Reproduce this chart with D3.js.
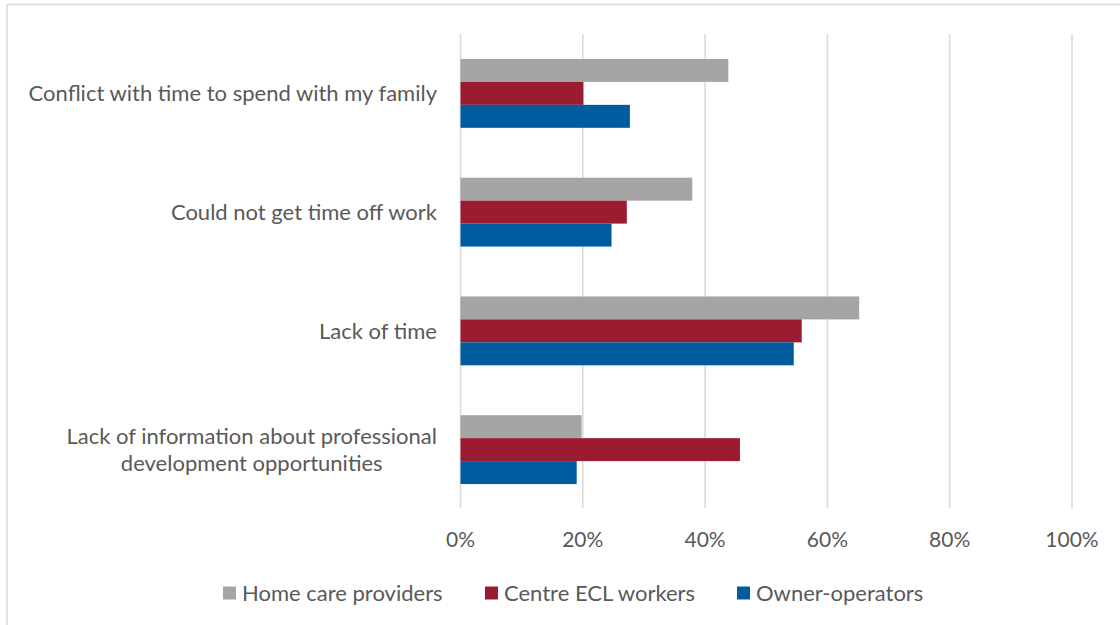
<!DOCTYPE html>
<html>
<head>
<meta charset="utf-8">
<script src="https://cdn.jsdelivr.net/npm/d3@7"></script>
<style>
  body { margin: 0; background: #fff; }
  text { font-family: Lato, "Open Sans", sans-serif; fill: #595959; }
</style>
</head>
<body>
<script>
const categories = [
  ['Conflict with time to spend with my family'],
  ['Could not get time off work'],
  ['Lack of time'],
  ['Lack of information about professional', 'development opportunities']
];
const seriesNames = ['Home care providers', 'Centre ECL workers', 'Owner-operators'];
const seriesColors = ['#A5A5A5', '#9B1C31', '#005C9E'];
const homeCare = [0.438, 0.379, 0.652, 0.198];
const centreEcl = [0.201, 0.272, 0.558, 0.457];
const owners = [0.277, 0.247, 0.545, 0.190];
const tickValues = [0, 0.2, 0.4, 0.6, 0.8, 1];

const values = [homeCare, centreEcl, owners];
const width = 1120, height = 625;
const margin = { top: 34, left: 460.5, right: 48, bottom: 116 };
const fontSize = 22;

const svg = d3.select('body').append('svg').attr('width', width).attr('height', height);

// frame
svg.append('rect')
  .attr('x', 7).attr('y', 4.5).attr('width', 1200).attr('height', 700)
  .attr('fill', 'none').attr('stroke', '#d9d9d9').attr('stroke-width', 1.5);

const x = d3.scaleLinear().domain([0, 1]).range([margin.left, 1072]);
const y = d3.scaleBand()
  .domain(d3.range(categories.length))
  .range([margin.top, height - margin.bottom])
  .paddingInner(0.42).paddingOuter(0.21);
const ySub = d3.scaleBand().domain(d3.range(seriesNames.length)).range([0, y.bandwidth()]);

// grid
svg.append('g').selectAll('line')
  .data(tickValues)
  .enter().append('line')
    .attr('x1', d => x(d)).attr('x2', d => x(d))
    .attr('y1', margin.top).attr('y2', height - margin.bottom - 1)
    .attr('stroke', '#d9d9d9').attr('stroke-width', 1.5);

// bars
const groups = svg.append('g').selectAll('g')
  .data(categories)
  .enter().append('g')
    .attr('transform', (d, i) => `translate(0, ${y(i)})`);
groups.selectAll('rect')
  .data((d, i) => values.map((s, j) => ({ s: j, v: s[i] })))
  .enter().append('rect')
    .attr('x', x(0))
    .attr('y', d => ySub(d.s))
    .attr('width', d => x(d.v) - x(0))
    .attr('height', ySub.bandwidth())
    .attr('fill', d => seriesColors[d.s]);

// category labels
const labels = svg.append('g').selectAll('text')
  .data(categories)
  .enter().append('text')
    .attr('font-size', fontSize)
    .attr('text-anchor', 'end')
    .attr('x', 437)
    .attr('y', (d, i) => y(i) + y.bandwidth() / 2);
labels.each(function (lines) {
  const t = d3.select(this);
  if (lines.length === 1) {
    t.append('tspan').attr('dy', '0.35em').text(lines[0]);
  } else {
    t.attr('text-anchor', 'middle');
    const tmp = t.append('tspan').text(lines[0]);
    const w = tmp.node().getComputedTextLength();
    tmp.remove();
    const cx = 437 - w / 2;
    lines.forEach((l, k) => {
      t.append('tspan').attr('x', cx)
        .attr('dy', k === 0 ? `${0.35 - 0.6 * (lines.length - 1)}em` : '1.2em')
        .text(l);
    });
  }
});

// x axis labels
svg.append('g').selectAll('text')
  .data(tickValues)
  .enter().append('text')
    .attr('font-size', 21)
    .attr('text-anchor', 'middle')
    .attr('x', d => x(d))
    .attr('y', 540)
    .attr('dy', '0.35em')
    .text(d3.format('.0%'));

// legend
const legendX = [223, 485, 737];
const legend = svg.append('g').selectAll('g')
  .data(seriesNames)
  .enter().append('g')
    .attr('transform', (d, i) => `translate(${legendX[i]}, 593)`);
legend.append('rect')
  .attr('x', 0).attr('y', -6.5).attr('width', 13).attr('height', 13)
  .attr('fill', (d, i) => seriesColors[i]);
legend.append('text')
  .attr('font-size', fontSize)
  .attr('x', 19).attr('dy', '0.35em')
  .text(d => d);
</script>
</body>
</html>
